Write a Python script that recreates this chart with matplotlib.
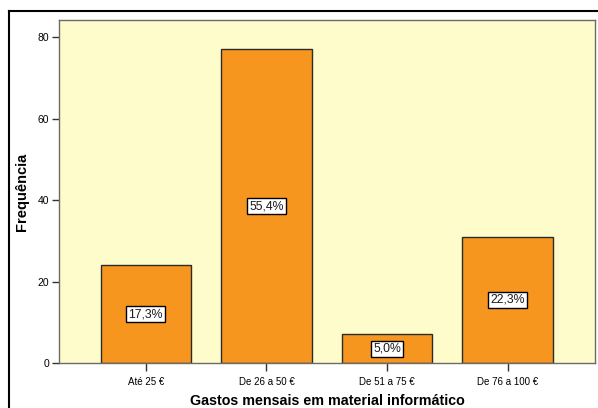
import matplotlib
matplotlib.use("Agg")
import matplotlib.pyplot as plt
from matplotlib.lines import Line2D

categories = ["Até 25 €", "De 26 a 50 €", "De 51 a 75 €", "De 76 a 100 €"]
counts = [24, 77, 7, 31]
pct_labels = ["17,3%", "55,4%", "5,0%", "22,3%"]
y_ticks = [0, 20, 40, 60, 80]

BAR = "#F7961F"
BG = "#FFFCCB"

plt.rcParams["font.family"] = ["Liberation Sans", "DejaVu Sans"]

fig = plt.figure(figsize=(5.98, 4.08), dpi=100)
ax = fig.add_axes([59 / 598, 45 / 408, 536 / 598, 343 / 408])
ax.set_facecolor(BG)

xs = range(len(categories))
ax.bar(xs, counts, width=0.75, color=BAR, edgecolor="#2b2b2b", lw=1.0, zorder=2)
for x, c, lab in zip(xs, counts, pct_labels):
    ax.text(x, c / 2, lab, ha="center", va="center", fontsize=8.8, color="#1a1a1a",
            bbox=dict(fc="white", ec="black", lw=1.0, boxstyle="square,pad=0.18"),
            zorder=3)

ax.set_xlim(-0.72, 3.725)
ax.set_ylim(0, 84.2)
ax.set_xticks(list(xs))
ax.set_xticklabels(categories, fontsize=7)
ax.set_yticks(y_ticks)
ax.set_yticklabels([str(v) for v in y_ticks], fontsize=7.5)
ax.tick_params(axis="both", direction="out", length=5, width=1.0, color="#333333",
               pad=2)
ax.tick_params(axis="x", length=6, pad=4)
for s in ax.spines.values():
    s.set_color("#6b6b6b")
    s.set_linewidth(1.0)

ax.set_ylabel("Frequência", fontsize=10.5, fontweight="bold", va="center")
ax.yaxis.set_label_coords((22 - 59) / 536, 0.5)
fig.text(0.5 * (59 + 595) / 598, 7 / 408, "Gastos mensais em material informático",
         ha="center", va="center", fontsize=10.3, fontweight="bold")

# outer frame lines (top and left)
fig.add_artist(Line2D([9 / 598, 1], [1 - 11 / 408, 1 - 11 / 408], color="black", lw=1.5,
                      transform=fig.transFigure))
fig.add_artist(Line2D([9 / 598, 9 / 598], [0, 1 - 11 / 408], color="black", lw=1.5,
                      transform=fig.transFigure))

fig.savefig("out.png", dpi=100)
